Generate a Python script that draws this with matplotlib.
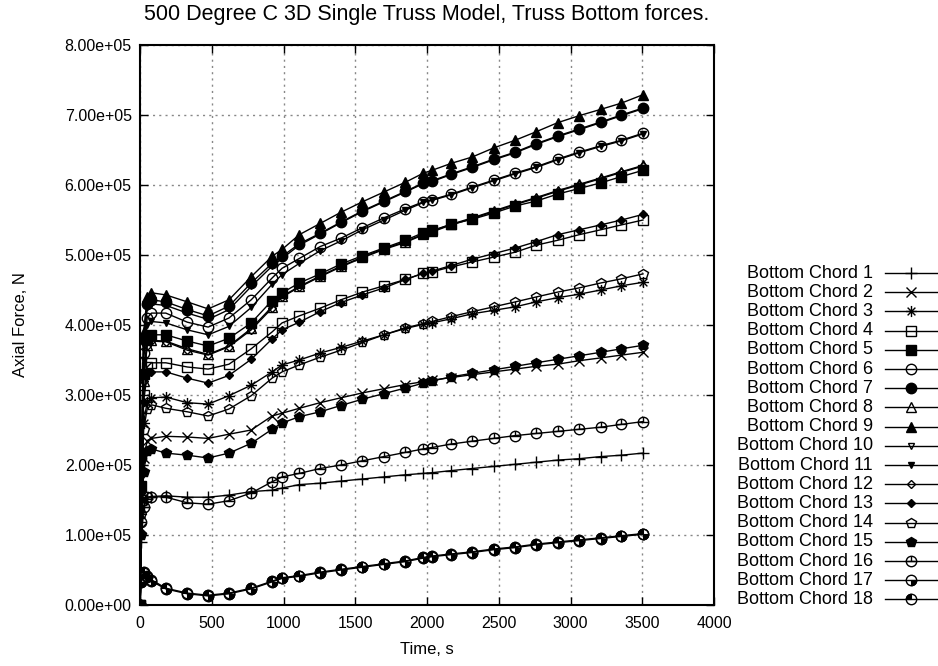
import numpy as np
import matplotlib
matplotlib.use("Agg")
import matplotlib.pyplot as plt
from matplotlib.path import Path
from matplotlib.lines import Line2D

plt.rcParams['font.family'] = ['Liberation Sans', 'DejaVu Sans']

# time points, s
t = [0, 10, 25, 50, 80, 180, 330, 475, 620, 775, 920, 990, 1110, 1255, 1400,
     1550, 1700, 1850, 1975, 2035, 2170, 2315, 2465, 2615, 2760, 2910, 3060,
     3210, 3355, 3505]

# axial forces in units of 1e5 N
chord1 = [0, 0.9, 1.4, 1.52, 1.55, 1.56, 1.54, 1.54, 1.57, 1.62, 1.64, 1.67, 1.72, 1.74, 1.77,
          1.80, 1.83, 1.86, 1.88, 1.89, 1.92, 1.95, 1.98, 2.01, 2.04, 2.07, 2.09, 2.12, 2.14, 2.17]
chord2 = [0, 1.1, 2.1, 2.35, 2.38, 2.41, 2.40, 2.38, 2.44, 2.50, 2.70, 2.74, 2.81, 2.89, 2.96,
          3.03, 3.09, 3.15, 3.19, 3.21, 3.25, 3.29, 3.33, 3.37, 3.41, 3.44, 3.49, 3.53, 3.57, 3.61]
chord3 = [0, 1.3, 2.6, 2.9, 2.96, 2.97, 2.89, 2.87, 2.99, 3.14, 3.33, 3.43, 3.50, 3.60, 3.68,
          3.77, 3.86, 3.95, 4.01, 4.03, 4.09, 4.16, 4.21, 4.26, 4.33, 4.39, 4.44, 4.50, 4.56, 4.61]
chord4 = [0, 1.5, 3.0, 3.4, 3.46, 3.46, 3.40, 3.37, 3.44, 3.66, 3.90, 4.03, 4.13, 4.24, 4.36,
          4.47, 4.56, 4.65, 4.74, 4.76, 4.83, 4.90, 4.97, 5.04, 5.14, 5.21, 5.29, 5.36, 5.43, 5.50]
chord5 = [0, 1.7, 3.3, 3.8, 3.86, 3.86, 3.77, 3.70, 3.81, 4.03, 4.35, 4.46, 4.60, 4.73, 4.87,
          4.99, 5.10, 5.21, 5.32, 5.35, 5.44, 5.51, 5.60, 5.70, 5.77, 5.87, 5.95, 6.03, 6.12, 6.21]
chord6 = [0, 1.9, 3.6, 4.1, 4.17, 4.17, 4.04, 3.97, 4.10, 4.36, 4.67, 4.81, 4.95, 5.12, 5.24,
          5.39, 5.53, 5.66, 5.76, 5.79, 5.87, 5.97, 6.07, 6.17, 6.26, 6.37, 6.47, 6.56, 6.64, 6.74]
chord7 = [0, 2.1, 3.8, 4.3, 4.36, 4.33, 4.22, 4.13, 4.27, 4.60, 4.88, 4.98, 5.16, 5.31, 5.47,
          5.63, 5.77, 5.91, 6.03, 6.06, 6.16, 6.26, 6.37, 6.47, 6.59, 6.70, 6.80, 6.90, 7.00, 7.10]
chord8 = [0, 1.6, 3.2, 3.72, 3.78, 3.77, 3.66, 3.58, 3.70, 3.95, 4.26, 4.41, 4.55, 4.70, 4.84,
          4.97, 5.09, 5.19, 5.30, 5.34, 5.44, 5.53, 5.63, 5.73, 5.82, 5.92, 6.01, 6.10, 6.19, 6.28]
chord9 = [0, 2.2, 3.9, 4.4, 4.46, 4.43, 4.33, 4.23, 4.36, 4.69, 4.98, 5.08, 5.29, 5.45, 5.61,
          5.76, 5.90, 6.04, 6.17, 6.21, 6.31, 6.40, 6.53, 6.64, 6.76, 6.89, 6.99, 7.08, 7.17, 7.29]
chord10 = [0, 2.0, 3.7, 4.25, 4.30, 4.28, 4.17, 4.08, 4.22, 4.55, 4.84, 4.95, 5.14, 5.30, 5.46,
           5.62, 5.76, 5.90, 6.02, 6.05, 6.15, 6.25, 6.36, 6.46, 6.58, 6.69, 6.79, 6.89, 6.99, 7.09]
chord11 = [0, 1.8, 3.5, 4.0, 4.05, 4.03, 3.93, 3.86, 3.98, 4.25, 4.58, 4.72, 4.88, 5.06, 5.20,
           5.36, 5.50, 5.64, 5.75, 5.78, 5.86, 5.96, 6.06, 6.16, 6.25, 6.36, 6.46, 6.55, 6.63, 6.73]
chord12 = [0, 1.6, 3.2, 3.7, 3.77, 3.76, 3.64, 3.57, 3.69, 3.93, 4.24, 4.40, 4.54, 4.69, 4.83,
           4.96, 5.08, 5.18, 5.29, 5.33, 5.43, 5.52, 5.62, 5.72, 5.81, 5.91, 6.00, 6.09, 6.18, 6.27]
chord13 = [0, 1.5, 2.9, 3.3, 3.33, 3.33, 3.24, 3.17, 3.28, 3.51, 3.80, 3.93, 4.04, 4.19, 4.32,
           4.43, 4.53, 4.65, 4.74, 4.77, 4.85, 4.94, 5.02, 5.10, 5.19, 5.29, 5.36, 5.43, 5.50, 5.58]
chord14 = [0, 1.3, 2.5, 2.8, 2.86, 2.81, 2.76, 2.70, 2.80, 2.99, 3.24, 3.33, 3.43, 3.54, 3.64,
           3.75, 3.86, 3.96, 4.02, 4.05, 4.12, 4.19, 4.26, 4.33, 4.40, 4.47, 4.53, 4.60, 4.66, 4.73]
chord15 = [0, 1.0, 1.9, 2.2, 2.23, 2.17, 2.14, 2.10, 2.17, 2.31, 2.51, 2.60, 2.69, 2.76, 2.85,
           2.94, 3.02, 3.10, 3.17, 3.20, 3.26, 3.31, 3.36, 3.41, 3.46, 3.51, 3.56, 3.61, 3.66, 3.71]
chord16 = [0, 1.19, 1.40, 1.54, 1.55, 1.54, 1.46, 1.44, 1.49, 1.60, 1.76, 1.83, 1.88, 1.95, 2.00,
           2.06, 2.12, 2.18, 2.23, 2.25, 2.30, 2.34, 2.38, 2.42, 2.45, 2.48, 2.51, 2.54, 2.58, 2.62]
chord17 = [0, 0.33, 0.46, 0.42, 0.34, 0.23, 0.16, 0.13, 0.16, 0.23, 0.33, 0.38, 0.41, 0.46, 0.50,
           0.54, 0.58, 0.62, 0.67, 0.69, 0.72, 0.75, 0.79, 0.82, 0.86, 0.89, 0.92, 0.95, 0.98, 1.01]
chord18 = [0, 0.36, 0.47, 0.40, 0.36, 0.24, 0.17, 0.14, 0.17, 0.24, 0.34, 0.39, 0.42, 0.47, 0.51,
           0.55, 0.59, 0.63, 0.68, 0.70, 0.73, 0.76, 0.80, 0.83, 0.87, 0.90, 0.93, 0.96, 0.99, 1.02]

series = [chord1, chord2, chord3, chord4, chord5, chord6, chord7, chord8, chord9,
          chord10, chord11, chord12, chord13, chord14, chord15, chord16, chord17, chord18]
labels = ["Bottom Chord %d" % (i + 1) for i in range(18)]


# gnuplot-like point types
def circle_lines():
    c = Path.unit_circle()
    verts = list(c.vertices) + [(-1, 0), (1, 0), (0, 0), (0, 1)]
    codes = list(c.codes) + [Path.MOVETO, Path.LINETO, Path.MOVETO, Path.LINETO]
    return Path(verts, codes)


asterisk = Path([(-1, 0), (1, 0), (0, -1), (0, 1), (-0.7, -0.7), (0.7, 0.7), (-0.7, 0.7), (0.7, -0.7)],
                [Path.MOVETO, Path.LINETO] * 4)

# (marker, filled, size, extra overlay marker)
styles = [
    ("+", False, 8, None),
    ("x", False, 7, None),
    (asterisk, False, 8, None),
    ("s", False, 7, None),
    ("s", True, 7, None),
    ("o", False, 7.5, None),
    ("o", True, 7.5, None),
    ("^", False, 6.5, None),
    ("^", True, 7, None),
    ("v", False, 5, None),
    ("v", True, 5, None),
    ("D", False, 4.5, None),
    ("D", True, 4.5, None),
    ("p", False, 7, None),
    ("p", True, 7, None),
    (circle_lines(), False, 7.5, None),
    ("o", False, 7.5, Path.wedge(270, 360)),
    ("o", False, 7.5, Path.wedge(90, 180)),
]

fig = plt.figure(figsize=(9.38, 6.66), dpi=100)
ax = fig.add_axes([140 / 938, 1 - 605 / 666, 574 / 938, 560 / 666])

tt = np.array(t)
for vals, (mk, filled, ms, extra) in zip(series, styles):
    y = np.array(vals) * 1e5
    ax.plot(tt, y, color="black", lw=1.0, marker=mk, ms=ms, mew=1.0,
            mfc="black" if filled else "none", mec="black")
    if extra is not None:
        ax.plot(tt, y, ls="none", marker=extra, ms=ms, mew=0.8, mfc="black", mec="black")

ax.set_xlim(0, 4000)
ax.set_ylim(0, 8e5)
ax.set_xticks(np.arange(0, 4001, 500))
ax.set_yticks(np.arange(0, 8.01e5, 1e5))
ax.set_yticklabels(["%.2e" % v for v in np.arange(0, 8.01e5, 1e5)])
ax.grid(True, color="#888888", ls=(0, (1.5, 3)), lw=1.0)
ax.tick_params(direction="in", length=6, width=1, top=True, right=True, labelsize=11.5)
ax.tick_params(axis="x", pad=8)
ax.tick_params(axis="y", pad=6)
for sp in ax.spines.values():
    sp.set_linewidth(1.5)

ax.set_title("500 Degree C 3D Single Truss Model, Truss Bottom forces.", fontsize=15.5, pad=18)
ax.set_xlabel("Time, s", fontsize=12, labelpad=8)
ax.set_ylabel("Axial Force, N", fontsize=12)
ax.yaxis.set_label_coords(-0.195, 0.5)

# gnuplot style key on the right
for i, (lab, (mk, filled, ms, extra)) in enumerate(zip(labels, styles)):
    yf = 1 - (273 + i * 19.2) / 666
    fig.text(873 / 938, yf, lab, ha="right", va="center", fontsize=13)
    fig.add_artist(Line2D([885 / 938, 937 / 938], [yf, yf], color="black", lw=1.0))
    fig.add_artist(Line2D([911 / 938], [yf], ls="none", marker=mk, ms=ms, mew=1.0,
                          mfc="black" if filled else "none", mec="black"))
    if extra is not None:
        fig.add_artist(Line2D([911 / 938], [yf], ls="none", marker=extra, ms=ms, mew=0.8,
                              mfc="black", mec="black"))

fig.savefig("out.png", dpi=100)
